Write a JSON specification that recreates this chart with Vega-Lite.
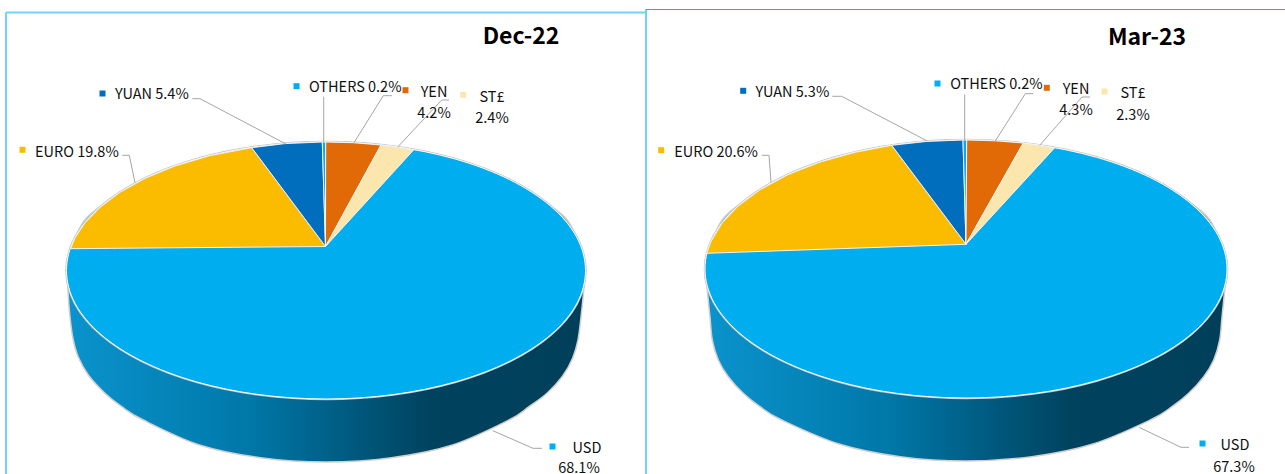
{
"$schema":"https://vega.github.io/schema/vega-lite/v6.json",
"width":1285,"height":474,"padding":0,
"autosize":{"type":"none"},
"background":"white",
"view":{"stroke":null},
"config":{"text":{"font":"Noto Sans CJK SC"}},
"datasets":{
"walls":[
{"s":"L","i":1,"x":67.5,"y":270.5},{"s":"L","i":1.5,"x":75.3,"y":237.2},{"s":"L","i":2,"x":101.3,"y":206.2},{"s":"L","i":3,"x":196.2,"y":159.2},{"s":"L","i":4,"x":326,"y":142},{"s":"L","i":5,"x":455.8,"y":159.2},{"s":"L","i":6,"x":550.7,"y":206.2},{"s":"L","i":6.5,"x":576.7,"y":237.2},{"s":"L","i":7,"x":584.5,"y":270.5},{"s":"L","i":8,"x":584,"y":287},{"s":"L","i":9,"x":581,"y":317},{"s":"L","i":10,"x":578,"y":340},{"s":"L","i":11,"x":572.7,"y":358},{"s":"L","i":12,"x":562.7,"y":376},{"s":"L","i":13,"x":547,"y":393.3},{"s":"L","i":14,"x":529,"y":406.7},{"s":"L","i":15,"x":509,"y":420},{"s":"L","i":16,"x":452.5,"y":445},{"s":"L","i":17,"x":391.5,"y":457.7},{"s":"L","i":18,"x":326,"y":462},{"s":"L","i":19,"x":260.5,"y":457.7},{"s":"L","i":20,"x":199.5,"y":445},{"s":"L","i":21,"x":143.3,"y":420},{"s":"L","i":22,"x":121.7,"y":406.7},{"s":"L","i":23,"x":105,"y":393.3},{"s":"L","i":24,"x":88.3,"y":375},{"s":"L","i":25,"x":78.3,"y":357},{"s":"L","i":26,"x":73.3,"y":340},{"s":"L","i":27,"x":70,"y":317},{"s":"L","i":28,"x":67.8,"y":287},
{"s":"R","i":1,"x":706,"y":269},{"s":"R","i":1.5,"x":713.9,"y":235.6},{"s":"R","i":2,"x":740,"y":204.5},{"s":"R","i":3,"x":835.5,"y":157.3},{"s":"R","i":4,"x":966,"y":140},{"s":"R","i":5,"x":1096.5,"y":157.3},{"s":"R","i":6,"x":1192,"y":204.5},{"s":"R","i":6.5,"x":1218.1,"y":235.6},{"s":"R","i":7,"x":1226,"y":269},{"s":"R","i":8,"x":1225,"y":287},{"s":"R","i":9,"x":1222,"y":317},{"s":"R","i":10,"x":1219.7,"y":340},{"s":"R","i":11,"x":1213.7,"y":360},{"s":"R","i":12,"x":1203.7,"y":376.7},{"s":"R","i":13,"x":1188.7,"y":393.3},{"s":"R","i":14,"x":1172,"y":406.7},{"s":"R","i":15,"x":1150.3,"y":420},{"s":"R","i":16,"x":1093,"y":444},{"s":"R","i":17,"x":1031.7,"y":456.7},{"s":"R","i":18,"x":966,"y":461},{"s":"R","i":19,"x":900.3,"y":456.7},{"s":"R","i":20,"x":839,"y":444},{"s":"R","i":21,"x":781.7,"y":420},{"s":"R","i":22,"x":760,"y":406.7},{"s":"R","i":23,"x":743.3,"y":393.3},{"s":"R","i":24,"x":728.3,"y":376.7},{"s":"R","i":25,"x":718.3,"y":360},{"s":"R","i":26,"x":712.3,"y":340},{"s":"R","i":27,"x":710,"y":317},{"s":"R","i":28,"x":707,"y":287}
],
"tops":[
{"s":"L","i":1,"x":585.5,"y":270.5},{"s":"L","i":2,"x":576.7,"y":303.8},{"s":"L","i":3,"x":550.7,"y":334.8},{"s":"L","i":4,"x":509.5,"y":361.4},{"s":"L","i":5,"x":455.8,"y":381.8},{"s":"L","i":6,"x":393.2,"y":394.6},{"s":"L","i":7,"x":326,"y":399},{"s":"L","i":8,"x":258.8,"y":394.6},{"s":"L","i":9,"x":196.2,"y":381.8},{"s":"L","i":10,"x":142.5,"y":361.4},{"s":"L","i":11,"x":101.3,"y":334.8},{"s":"L","i":12,"x":75.3,"y":303.8},{"s":"L","i":13,"x":66.5,"y":270.5},{"s":"L","i":14,"x":75.3,"y":237.2},{"s":"L","i":15,"x":101.3,"y":206.2},{"s":"L","i":16,"x":142.5,"y":179.6},{"s":"L","i":17,"x":196.2,"y":159.2},{"s":"L","i":18,"x":258.8,"y":146.4},{"s":"L","i":19,"x":326,"y":142},{"s":"L","i":20,"x":393.2,"y":146.4},{"s":"L","i":21,"x":455.8,"y":159.2},{"s":"L","i":22,"x":509.5,"y":179.6},{"s":"L","i":23,"x":550.7,"y":206.2},{"s":"L","i":24,"x":576.7,"y":237.2},
{"s":"R","i":1,"x":1227,"y":269},{"s":"R","i":2,"x":1218.1,"y":302.4},{"s":"R","i":3,"x":1192,"y":333.5},{"s":"R","i":4,"x":1150.6,"y":360.2},{"s":"R","i":5,"x":1096.5,"y":380.7},{"s":"R","i":6,"x":1033.6,"y":393.6},{"s":"R","i":7,"x":966,"y":398},{"s":"R","i":8,"x":898.4,"y":393.6},{"s":"R","i":9,"x":835.5,"y":380.7},{"s":"R","i":10,"x":781.4,"y":360.2},{"s":"R","i":11,"x":740,"y":333.5},{"s":"R","i":12,"x":713.9,"y":302.4},{"s":"R","i":13,"x":705,"y":269},{"s":"R","i":14,"x":713.9,"y":235.6},{"s":"R","i":15,"x":740,"y":204.5},{"s":"R","i":16,"x":781.4,"y":177.8},{"s":"R","i":17,"x":835.5,"y":157.3},{"s":"R","i":18,"x":898.4,"y":144.4},{"s":"R","i":19,"x":966,"y":140},{"s":"R","i":20,"x":1033.6,"y":144.4},{"s":"R","i":21,"x":1096.5,"y":157.3},{"s":"R","i":22,"x":1150.6,"y":177.8},{"s":"R","i":23,"x":1192,"y":204.5},{"s":"R","i":24,"x":1218.1,"y":235.6}
],
"wedges":[
{"s":"L-EURO","c":"EURO","i":0,"x":325.5,"y":246.5},{"s":"L-EURO","c":"EURO","i":1,"x":70.7,"y":248.7},{"s":"L-EURO","c":"EURO","i":2,"x":75,"y":237.9},{"s":"L-EURO","c":"EURO","i":3,"x":85,"y":222.8},{"s":"L-EURO","c":"EURO","i":4,"x":100,"y":207.4},{"s":"L-EURO","c":"EURO","i":5,"x":120,"y":192.3},{"s":"L-EURO","c":"EURO","i":6,"x":145,"y":178.4},{"s":"L-EURO","c":"EURO","i":7,"x":175,"y":166},{"s":"L-EURO","c":"EURO","i":8,"x":210,"y":155.6},{"s":"L-EURO","c":"EURO","i":9,"x":251.7,"y":147.7},
{"s":"L-YUAN","c":"YUAN","i":0,"x":325.5,"y":246.5},{"s":"L-YUAN","c":"YUAN","i":1,"x":251.7,"y":147.7},{"s":"L-YUAN","c":"YUAN","i":2,"x":285,"y":143.6},{"s":"L-YUAN","c":"YUAN","i":3,"x":322.3,"y":142},
{"s":"L-OTHERS","c":"OTHERS","i":0,"x":325.5,"y":246.5},{"s":"L-OTHERS","c":"OTHERS","i":1,"x":322.3,"y":142},{"s":"L-OTHERS","c":"OTHERS","i":2,"x":325.7,"y":142},
{"s":"L-YEN","c":"YEN","i":0,"x":325.5,"y":246.5},{"s":"L-YEN","c":"YEN","i":1,"x":325.7,"y":142},{"s":"L-YEN","c":"YEN","i":2,"x":353,"y":142.7},{"s":"L-YEN","c":"YEN","i":3,"x":381,"y":145},
{"s":"L-ST","c":"ST£","i":0,"x":325.5,"y":246.5},{"s":"L-ST","c":"ST£","i":1,"x":381,"y":145},{"s":"L-ST","c":"ST£","i":2,"x":397,"y":146.9},{"s":"L-ST","c":"ST£","i":3,"x":413.3,"y":150.3},
{"s":"R-EURO","c":"EURO","i":0,"x":966,"y":244.3},{"s":"R-EURO","c":"EURO","i":1,"x":706.7,"y":253.3},{"s":"R-EURO","c":"EURO","i":2,"x":711,"y":241.5},{"s":"R-EURO","c":"EURO","i":3,"x":722,"y":223.2},{"s":"R-EURO","c":"EURO","i":4,"x":738,"y":206.2},{"s":"R-EURO","c":"EURO","i":5,"x":760,"y":189.8},{"s":"R-EURO","c":"EURO","i":6,"x":788,"y":174.7},{"s":"R-EURO","c":"EURO","i":7,"x":820,"y":162.1},{"s":"R-EURO","c":"EURO","i":8,"x":855,"y":152.3},{"s":"R-EURO","c":"EURO","i":9,"x":891.7,"y":145.3},
{"s":"R-YUAN","c":"YUAN","i":0,"x":966,"y":244.3},{"s":"R-YUAN","c":"YUAN","i":1,"x":891.7,"y":145.3},{"s":"R-YUAN","c":"YUAN","i":2,"x":927,"y":141.4},{"s":"R-YUAN","c":"YUAN","i":3,"x":963,"y":140},
{"s":"R-OTHERS","c":"OTHERS","i":0,"x":966,"y":244.3},{"s":"R-OTHERS","c":"OTHERS","i":1,"x":963,"y":140},{"s":"R-OTHERS","c":"OTHERS","i":2,"x":966.7,"y":140},
{"s":"R-YEN","c":"YEN","i":0,"x":966,"y":244.3},{"s":"R-YEN","c":"YEN","i":1,"x":966.7,"y":140},{"s":"R-YEN","c":"YEN","i":2,"x":995,"y":140.8},{"s":"R-YEN","c":"YEN","i":3,"x":1023.3,"y":143},
{"s":"R-ST","c":"ST£","i":0,"x":966,"y":244.3},{"s":"R-ST","c":"ST£","i":1,"x":1023.3,"y":143},{"s":"R-ST","c":"ST£","i":2,"x":1039,"y":145.2},{"s":"R-ST","c":"ST£","i":3,"x":1054.3,"y":148.2}
],
"leaders":[
{"s":"L-YUAN","i":1,"x":192.3,"y":98.7},{"s":"L-YUAN","i":2,"x":200,"y":98.7},{"s":"L-YUAN","i":3,"x":286,"y":144},
{"s":"L-EURO","i":1,"x":122.3,"y":155.3},{"s":"L-EURO","i":2,"x":129.3,"y":155.3},{"s":"L-EURO","i":3,"x":135,"y":182.7},
{"s":"L-OTHERS","i":1,"x":323.7,"y":96.7},{"s":"L-OTHERS","i":2,"x":323.7,"y":142},
{"s":"L-YEN","i":1,"x":392,"y":95.7},{"s":"L-YEN","i":2,"x":383.3,"y":95.7},{"s":"L-YEN","i":3,"x":354,"y":142.7},
{"s":"L-ST","i":1,"x":449,"y":100},{"s":"L-ST","i":2,"x":441.7,"y":100},{"s":"L-ST","i":3,"x":397.7,"y":147},
{"s":"L-USD","i":1,"x":542,"y":448.3},{"s":"L-USD","i":2,"x":533,"y":448.3},{"s":"L-USD","i":3,"x":492.8,"y":430.7},
{"s":"R-YUAN","i":1,"x":832.3,"y":96.3},{"s":"R-YUAN","i":2,"x":841.7,"y":96.3},{"s":"R-YUAN","i":3,"x":926.7,"y":140.7},
{"s":"R-EURO","i":1,"x":761.7,"y":155.3},{"s":"R-EURO","i":2,"x":769,"y":155.3},{"s":"R-EURO","i":3,"x":771,"y":182.3},
{"s":"R-OTHERS","i":1,"x":964.7,"y":94.3},{"s":"R-OTHERS","i":2,"x":964.7,"y":140},
{"s":"R-YEN","i":1,"x":1033.3,"y":93.7},{"s":"R-YEN","i":2,"x":1025.3,"y":93.7},{"s":"R-YEN","i":3,"x":995.3,"y":141},
{"s":"R-ST","i":1,"x":1090,"y":97},{"s":"R-ST","i":2,"x":1082,"y":97},{"s":"R-ST","i":3,"x":1039.7,"y":145.3},
{"s":"R-USD","i":1,"x":1189,"y":447.3},{"s":"R-USD","i":2,"x":1181,"y":447.3},{"s":"R-USD","i":3,"x":1139,"y":427.3}
],
"keys":[
{"c":"YUAN","x":102.5,"y":93.5},{"c":"OTHERS","x":296.5,"y":86.2},{"c":"YEN","x":405.5,"y":90.2},{"c":"ST£","x":463.2,"y":94.8},{"c":"EURO","x":22.5,"y":149.8},{"c":"USD","x":552.5,"y":446.5},
{"c":"YUAN","x":743.2,"y":90.8},{"c":"OTHERS","x":937.5,"y":83.5},{"c":"YEN","x":1046.8,"y":87.8},{"c":"ST£","x":1104.5,"y":91.5},{"c":"EURO","x":661.2,"y":150.2},{"c":"USD","x":1202.5,"y":443.5}
],
"labelsStart":[
{"t":"YUAN 5.4%","x":115,"y":93},{"t":"OTHERS 0.2%","x":309,"y":86},{"t":"EURO 19.8%","x":35,"y":151},
{"t":"YUAN 5.3%","x":755.5,"y":91},{"t":"OTHERS 0.2%","x":950.2,"y":83.3},{"t":"EURO 20.6%","x":674.2,"y":151}
],
"labelsCenter":[
{"t":"YEN","x":434,"y":90.7},{"t":"4.2%","x":434,"y":111.7},{"t":"ST£","x":492,"y":96},{"t":"2.4%","x":492,"y":117},{"t":"USD","x":587,"y":447},{"t":"68.1%","x":579,"y":467},
{"t":"YEN","x":1076,"y":88},{"t":"4.3%","x":1076,"y":109},{"t":"ST£","x":1133,"y":92},{"t":"2.3%","x":1133,"y":114},{"t":"USD","x":1235,"y":444},{"t":"67.3%","x":1234,"y":465.5}
],
"titles":[{"t":"Dec-22","x":521,"y":35},{"t":"Mar-23","x":1147,"y":36}],
"framesLight":[{"x":6,"y":12.5,"x2":645.5,"y2":12.5},{"x":6,"y":12.5,"x2":6,"y2":474},{"x":646,"y":10,"x2":646,"y2":474}],
"framesDark":[{"x":645.5,"y":9.5,"x2":1285,"y2":9.5}]
},
"encoding":{
"x":{"field":"x","type":"quantitative","scale":{"domain":[0,1285],"nice":false,"zero":false},"axis":null},
"y":{"field":"y","type":"quantitative","scale":{"domain":[474,0],"nice":false,"zero":false},"axis":null}
},
"layer":[
{"data":{"name":"framesLight"},"mark":{"type":"rule","stroke":"#6dd3f7","strokeWidth":2},"encoding":{"x2":{"field":"x2"},"y2":{"field":"y2"}}},
{"data":{"name":"framesDark"},"mark":{"type":"rule","stroke":"#1aaee5","strokeWidth":1},"encoding":{"x2":{"field":"x2"},"y2":{"field":"y2"}}},
{"data":{"name":"walls"},"mark":{"type":"line","interpolate":"cardinal-closed","stroke":"#cfcfcf","strokeWidth":1.5,
"fill":{"gradient":"linear","x1":0,"y1":0,"x2":1,"y2":0,"stops":[{"offset":0,"color":"#0a93cd"},{"offset":0.35,"color":"#0078a8"},{"offset":0.7,"color":"#00435f"},{"offset":1,"color":"#003f5a"}]}},
"encoding":{"detail":{"field":"s"},"order":{"field":"i","type":"quantitative"}}},
{"data":{"name":"tops"},"mark":{"type":"line","interpolate":"cardinal-closed","stroke":"#c4c4c4","strokeWidth":2.5},
"encoding":{"detail":{"field":"s"},"order":{"field":"i","type":"quantitative"}}},
{"data":{"name":"tops"},"mark":{"type":"line","interpolate":"cardinal-closed","stroke":"#ffffff","strokeWidth":1,"fill":"#00adee"},
"encoding":{"detail":{"field":"s"},"order":{"field":"i","type":"quantitative"}}},
{"data":{"name":"wedges"},"mark":{"type":"line","interpolate":"linear-closed","stroke":"#f4f4f4","strokeWidth":1},
"encoding":{"detail":{"field":"s"},"order":{"field":"i","type":"quantitative"},
"fill":{"field":"c","type":"nominal","legend":null,"scale":{"domain":["USD","EURO","YUAN","OTHERS","YEN","ST£"],"range":["#00adee","#fbbc00","#006ebc","#00adee","#e16a07","#fbe6ae"]}}}},
{"data":{"name":"leaders"},"mark":{"type":"line","stroke":"#a6a6a6","strokeWidth":1},
"encoding":{"detail":{"field":"s"},"order":{"field":"i","type":"quantitative"}}},
{"data":{"name":"keys"},"mark":{"type":"square","size":36,"opacity":1,"filled":true},
"encoding":{"fill":{"field":"c","type":"nominal","legend":null,"scale":{"domain":["USD","EURO","YUAN","OTHERS","YEN","ST£"],"range":["#00adee","#fbbc00","#006ebc","#00adee","#e16a07","#fbe6ae"]}}}},
{"data":{"name":"labelsStart"},"mark":{"type":"text","align":"left","baseline":"middle","fontSize":14.5,"dy":2,"color":"#111111"},"encoding":{"text":{"field":"t"}}},
{"data":{"name":"labelsCenter"},"mark":{"type":"text","align":"center","baseline":"middle","fontSize":14.5,"dy":2,"color":"#111111"},"encoding":{"text":{"field":"t"}}},
{"data":{"name":"titles"},"mark":{"type":"text","align":"center","baseline":"middle","fontSize":23,"fontWeight":"bold","dy":2,"color":"#000000"},"encoding":{"text":{"field":"t"}}}
]
}
